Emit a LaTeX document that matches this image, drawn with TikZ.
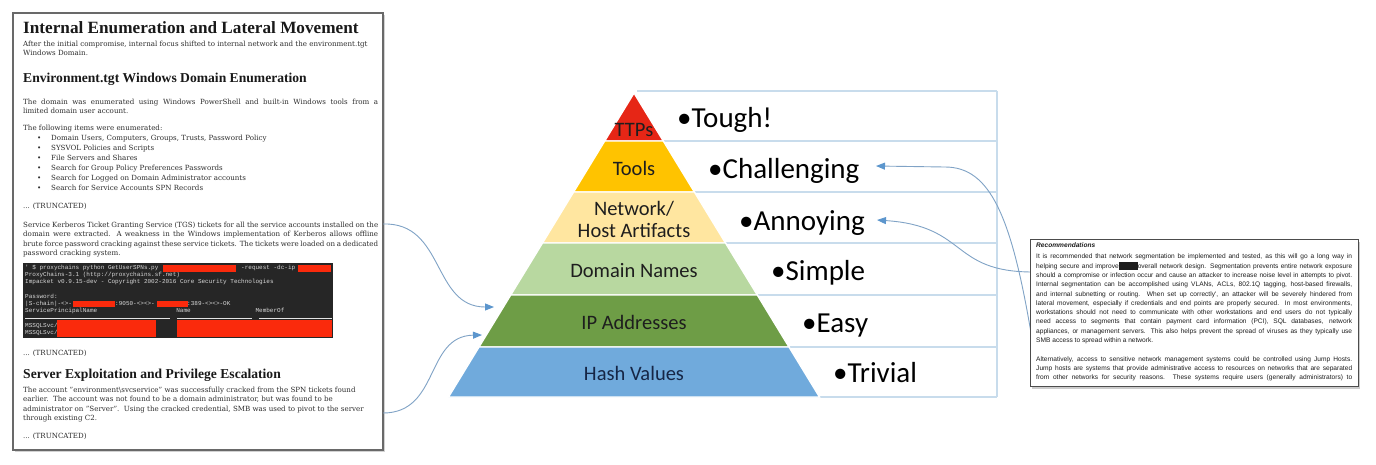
\documentclass[tikz,border=0pt]{standalone}
\usepackage{fontspec}
\setmainfont{DejaVu Serif}
\newfontfamily\headfont{Liberation Serif}
\newfontfamily\pyrfont{Carlito}
\newfontfamily\recfont{Liberation Sans}
\newfontfamily\termfont{Liberation Mono}
\usetikzlibrary{arrows.meta,shadows}

\definecolor{ttpred}{RGB}{230,38,22}
\definecolor{toolgold}{RGB}{255,195,0}
\definecolor{artyellow}{RGB}{255,230,160}
\definecolor{domgreen}{RGB}{184,216,160}
\definecolor{ipgreen}{RGB}{110,157,70}
\definecolor{hashblue}{RGB}{112,170,220}
\definecolor{gridblue}{RGB}{200,220,236}
\definecolor{linkblue}{RGB}{128,163,198}
\definecolor{tipblue}{RGB}{92,150,205}
\definecolor{termbg}{RGB}{38,38,38}
\definecolor{termink}{RGB}{215,215,215}
\definecolor{redink}{RGB}{250,42,12}
\definecolor{frameink}{RGB}{105,105,105}
\definecolor{bodyink}{RGB}{45,45,45}
\definecolor{headink}{RGB}{25,25,25}
\definecolor{tierink}{RGB}{30,30,30}
\definecolor{recink}{RGB}{30,30,30}

% one line stretched to the full width of its paragraph box
\newcommand{\justline}[1]{\makebox[\linewidth][s]{#1}}

\begin{document}
\begin{tikzpicture}[x=1pt,y=-1pt,
  docline/.style={anchor=base west,inner sep=0pt,text=bodyink,font=\fontsize{7.1}{9.6}\selectfont},
  dochead/.style={anchor=base west,inner sep=0pt,text=headink,font=\headfont\bfseries\fontsize{13.6}{16}\selectfont},
  layer/.style={draw=white,line width=1.4pt,line join=miter},
  tier/.style={anchor=base,inner sep=0pt,text=tierink,font=\pyrfont\fontsize{20.5}{22}\selectfont},
  effort/.style={anchor=base west,inner sep=0pt,text=black,font=\pyrfont\fontsize{29}{31}\selectfont},
  gridline/.style={draw=gridblue,line width=1.3pt},
  link/.style={draw=linkblue,line width=0.9pt,-{Triangle[length=9pt,width=7pt,color=tipblue]}},
  term/.style={anchor=base west,inner sep=0pt,text=termink,font=\termfont\fontsize{6}{7.3}\selectfont},
  redact/.style={fill=redink},
]
\useasboundingbox (0,0) rectangle (1376,464);
\fill[white] (0,0) rectangle (1376,464);

% ---------------- report page on the left ----------------
\node[draw=frameink,line width=1.2pt,fill=white,minimum width=370pt,minimum height=437pt,inner sep=0pt,
      drop shadow={shadow xshift=1.5pt,shadow yshift=-1.5pt,opacity=0.35}] (doc) at (198,231.5) {};

\node[dochead,font=\headfont\bfseries\fontsize{17.2}{20}\selectfont] (title) at (23,33) {Internal Enumeration and Lateral Movement};
\node[docline] (intro) at (23,46) {\parbox[t]{355pt}{\mbox{After the initial compromise, internal focus shifted to internal network and the environment.tgt}\\ Windows Domain.}};
\node[dochead] (enumhead) at (23,82) {Environment.tgt Windows Domain Enumeration};
\node[docline] (enumtext) at (23,104) {\parbox[t]{355pt}{\justline{The domain was enumerated using Windows PowerShell and built-in Windows tools from a}\\ limited domain user account.}};
\node[docline] (itemshead) at (23,130) {The following items were enumerated:};
\node[docline] (items) at (37,140) {\parbox[t]{330pt}{\baselineskip=10pt
  \makebox[14pt][l]{•}Domain Users, Computers, Groups, Trusts, Password Policy\\
  \makebox[14pt][l]{•}SYSVOL Policies and Scripts\\
  \makebox[14pt][l]{•}File Servers and Shares\\
  \makebox[14pt][l]{•}Search for Group Policy Preferences Passwords\\
  \makebox[14pt][l]{•}Search for Logged on Domain Administrator accounts\\
  \makebox[14pt][l]{•}Search for Service Accounts SPN Records}};
\node[docline] (trunc1) at (23,208) {... (TRUNCATED)};
\node[docline] (kerb) at (23,227) {\parbox[t]{355pt}{\baselineskip=9.5pt
  \justline{Service Kerberos Ticket Granting Service (TGS) tickets for all the service accounts installed on the}\\
  \justline{domain were extracted. A weakness in the Windows implementation of Kerberos allows offline}\\
  \justline{brute force password cracking against these service tickets. The tickets were loaded on a dedicated}\\
  password cracking system.}};

% terminal capture
\fill[termbg] (23,263) rectangle (333,338);
\node[term] (termtext) at (25,269) {\parbox[t]{306pt}{%
  \makebox[216pt][l]{' \$ proxychains python GetUserSPNs.py}-request -dc-ip\\
  ProxyChains-3.1 (http://proxychains.sf.net)\\
  Impacket v0.9.15-dev - Copyright 2002-2016 Core Security Technologies\\
  \mbox{}\\
  Password:\\
  \makebox[90pt][l]{|S-chain|-<>-}\makebox[72pt][l]{:9050-<><>-}:389-<><>-OK\\
  \makebox[151.2pt][l]{ServicePrincipalName}\makebox[79.2pt][l]{Name}MemberOf\\
  \mbox{}\\
  MSSQLSvc/\\
  MSSQLSvc/}};
\draw[termink!70,line width=0.8pt] (25,318) -- (170,318) (177,318) -- (252,318) (259,318) -- (332,318);
\fill[redact] (163,264.5) rectangle (236,271.5);
\fill[redact] (298,264.5) rectangle (331,271.5);
\fill[redact] (73,300.5) rectangle (115,307);
\fill[redact] (157,300.5) rectangle (188,307);
\fill[redact] (57,319.5) rectangle (156,337);
\fill[redact] (177,319.5) rectangle (332,337);

\node[docline] (trunc2) at (23,355) {... (TRUNCATED)};
\node[dochead] (privhead) at (23,378) {Server Exploitation and Privilege Escalation};
\node[docline] (privtext) at (23,392) {\parbox[t]{355pt}{\baselineskip=9.5pt
  \mbox{The account "environment\textbackslash svcservice" was successfully cracked from the SPN tickets found}\\
  \mbox{earlier.\ \ The account was not found to be a domain administrator, but was found to be}\\
  \mbox{administrator on "Server".\ \ Using the cracked credential, SMB was used to pivot to the server}\\
  through existing C2.}};
\node[docline] (trunc3) at (23,438) {... (TRUNCATED)};

% ---------------- table lines beside the pyramid ----------------
\draw[gridline] (637,91) -- (997,91);
\draw[gridline] (664,141) -- (997,141);
\draw[gridline] (695,192) -- (997,192);
\draw[gridline] (726,243) -- (997,243);
\draw[gridline] (758,295) -- (997,295);
\draw[gridline] (790,347) -- (997,347);
\draw[gridline] (820,397) -- (997,397);
\draw[gridline] (997,91) -- (997,397);

% ---------------- pyramid of pain ----------------
\filldraw[layer,fill=ttpred]    (634,93) -- (663.3,141) -- (604.7,141) -- cycle;
\filldraw[layer,fill=toolgold]  (604.7,141) -- (663.3,141) -- (694.4,192) -- (573.6,192) -- cycle;
\filldraw[layer,fill=artyellow] (573.6,192) -- (694.4,192) -- (725.5,243) -- (542.5,243) -- cycle;
\filldraw[layer,fill=domgreen]  (542.5,243) -- (725.5,243) -- (757.3,295) -- (510.7,295) -- cycle;
\filldraw[layer,fill=ipgreen]   (510.7,295) -- (757.3,295) -- (789,347) -- (479,347) -- cycle;
\filldraw[layer,fill=hashblue]  (479,347) -- (789,347) -- (819.5,397) -- (448.5,397) -- cycle;

\node[tier] (ttps) at (634,136) {TTPs};
\node[tier] (tools) at (634,175) {Tools};
\node[tier] (network) at (634,215) {Network/};
\node[tier] (artifacts) at (634,237) {Host Artifacts};
\node[tier] (domains) at (634,277) {Domain Names};
\node[tier] (ips) at (634,329) {IP Addresses};
\node[tier,text={rgb,255:red,22;green,38;blue,70}] (hashes) at (634,380) {Hash Values};

\node[effort] (tough) at (677,127) {•Tough!};
\node[effort] (challenging) at (708,178) {•Challenging};
\node[effort] (annoying) at (739,230) {•Annoying};
\node[effort] (simple) at (771,280) {•Simple};
\node[effort] (easy) at (802,332) {•Easy};
\node[effort] (trivial) at (833,382) {•Trivial};

% ---------------- connectors ----------------
\coordinate (kerbout) at (383,224);
\coordinate (privout) at (383,413);
\coordinate (ipupper) at (494,307);
\coordinate (iplower) at (482,335);
\coordinate (recupper) at (1033,345);
\coordinate (recmid) at (1033,272);
\coordinate (toolsin) at (876,166);
\coordinate (artin) at (877,220);

\draw[link] (kerbout) .. controls (445,222) and (432,307) .. (ipupper);
\draw[link] (privout) .. controls (440,413) and (425,336) .. (iplower);
\draw[link] (recupper) .. controls (1012,215) and (990,167) .. (945,167) -- (toolsin);
\draw[link] (recmid) .. controls (950,272) and (968,226) .. (artin);

% ---------------- recommendations excerpt ----------------
\node[draw=black!70,line width=1pt,fill=white,minimum width=328pt,minimum height=147pt,inner sep=0pt,
      drop shadow={shadow xshift=2pt,shadow yshift=-2.5pt,opacity=0.4}] (rec) at (1194,312.5) {};
\node[anchor=base west,inner sep=0pt,text=recink,font=\recfont\fontsize{6.6}{9.3}\selectfont] (rectext) at (1036,247.5) {\parbox[t]{316pt}{%
  \textbf{\textit{Recommendations}}\\[2pt]
  \justline{It is recommended that network segmentation be implemented and tested, as this will go a long way in}\\
  \justline{helping secure and improve\rule[-1.5pt]{19pt}{7.5pt}overall network design. Segmentation prevents entire network exposure}\\
  \justline{should a compromise or infection occur and cause an attacker to increase noise level in attempts to pivot.}\\
  \justline{Internal segmentation can be accomplished using VLANs, ACLs, 802.1Q tagging, host-based firewalls,}\\
  \justline{and internal subnetting or routing. When set up correctly', an attacker will be severely hindered from}\\
  \justline{lateral movement, especially if credentials and end points are properly secured. In most environments,}\\
  \justline{workstations should not need to communicate with other workstations and end users do not typically}\\
  \justline{need access to segments that contain payment card information (PCI), SQL databases, network}\\
  \justline{appliances, or management servers. This also helps prevent the spread of viruses as they typically use}\\
  SMB access to spread within a network.\\[9.3pt]
  \justline{Alternatively, access to sensitive network management systems could be controlled using Jump Hosts.}\\
  \justline{Jump hosts are systems that provide administrative access to resources on networks that are separated}\\
  \justline{from other networks for security reasons. These systems require users (generally administrators) to}}};
\end{tikzpicture}
\end{document}
